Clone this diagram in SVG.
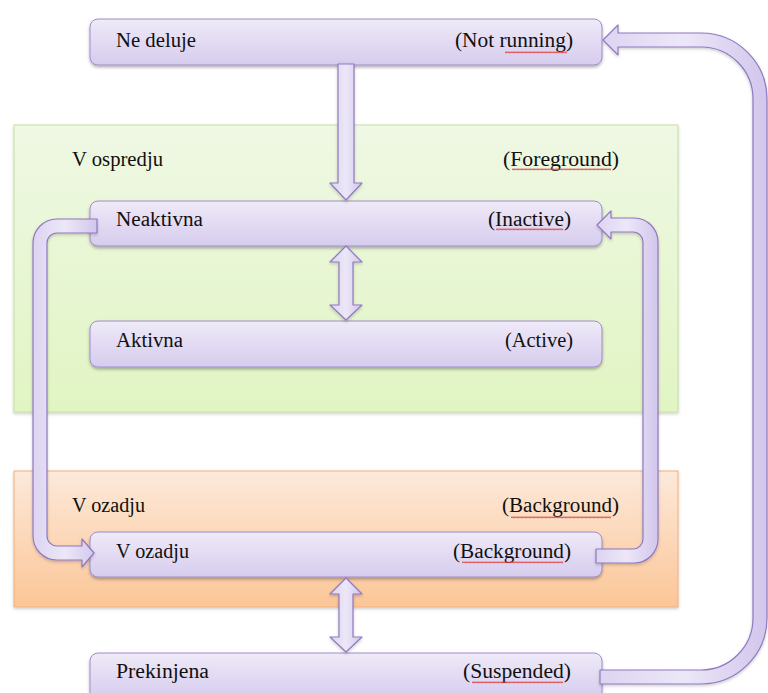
<svg xmlns="http://www.w3.org/2000/svg" width="768" height="693" viewBox="0 0 768 693">
  <defs>
    <linearGradient id="nodeFill" x1="0" y1="0" x2="0" y2="1">
      <stop offset="0" stop-color="#efeaf8"/>
      <stop offset="1" stop-color="#d6ccee"/>
    </linearGradient>
    <linearGradient id="arrowFill" x1="0" y1="0" x2="1" y2="0">
      <stop offset="0" stop-color="#ddd4f1"/>
      <stop offset="0.5" stop-color="#ece7f8"/>
      <stop offset="1" stop-color="#d2c6ec"/>
    </linearGradient>
    <linearGradient id="greenFill" x1="0" y1="0" x2="0" y2="1">
      <stop offset="0" stop-color="#eff8e4"/>
      <stop offset="1" stop-color="#e1f5c3"/>
    </linearGradient>
    <linearGradient id="orangeFill" x1="0" y1="0" x2="0" y2="1">
      <stop offset="0" stop-color="#fde9da"/>
      <stop offset="1" stop-color="#fbc697"/>
    </linearGradient>
    <pattern id="squiggle" width="4" height="3" patternUnits="userSpaceOnUse">
      <path d="M0,2.2 L1,0.6 L2,2.2 L3,0.6 L4,2.2" fill="none" stroke="#e03a3a" stroke-width="0.8"/>
    </pattern>
    <filter id="shadow" x="-5%" y="-20%" width="110%" height="150%">
      <feDropShadow dx="0" dy="2" stdDeviation="1.5" flood-color="#000" flood-opacity="0.3"/>
    </filter>
    <filter id="softShadow" x="-5%" y="-5%" width="110%" height="110%">
      <feDropShadow dx="0" dy="1.5" stdDeviation="1.5" flood-color="#000" flood-opacity="0.2"/>
    </filter>
  </defs>
  <style>
    .label { font-family: "Liberation Serif", "DejaVu Serif", serif; font-size: 20px; fill: #101010; }
    .box { fill: url(#nodeFill); stroke: #a08cca; stroke-width: 1; filter: url(#shadow); }
    .arrow { fill: url(#arrowFill); stroke: #8f79c0; stroke-width: 1.2; stroke-linejoin: round; filter: url(#softShadow); }
    .squig { fill: url(#squiggle); }
  </style>

  <rect width="768" height="693" fill="#ffffff"/>

  <!-- Foreground area -->
  <g id="foreground">
    <rect x="14" y="125" width="664" height="287" fill="url(#greenFill)" stroke="#c6df9f" stroke-width="1" filter="url(#softShadow)"/>
    <text class="label" x="72" y="166" textLength="91" lengthAdjust="spacingAndGlyphs">V ospredju</text>
    <text class="label" x="503" y="166" textLength="116" lengthAdjust="spacingAndGlyphs">(Foreground)</text>
    <rect class="squig" x="512" y="168" width="99" height="3"/>
  </g>

  <!-- Background area -->
  <g id="background">
    <rect x="14" y="471" width="664" height="136" fill="url(#orangeFill)" stroke="#f3ae78" stroke-width="1" filter="url(#softShadow)"/>
    <text class="label" x="72" y="512" textLength="73" lengthAdjust="spacingAndGlyphs">V ozadju</text>
    <text class="label" x="502" y="512" textLength="117" lengthAdjust="spacingAndGlyphs">(Background)</text>
    <rect class="squig" x="511" y="516" width="100" height="3"/>
  </g>

  <!-- States -->
  <g id="not-running">
    <rect class="box" x="90" y="19" width="512" height="46" rx="8"/>
    <text class="label" x="116" y="47" textLength="80" lengthAdjust="spacingAndGlyphs">Ne deluje</text>
    <text class="label" x="455" y="47" textLength="118" lengthAdjust="spacingAndGlyphs">(Not running)</text>
    <rect class="squig" x="505" y="51" width="62" height="3"/>
  </g>

  <g id="inactive">
    <rect class="box" x="90" y="201" width="512" height="45" rx="8"/>
    <text class="label" x="116" y="226" textLength="87" lengthAdjust="spacingAndGlyphs">Neaktivna</text>
    <text class="label" x="488" y="226" textLength="83" lengthAdjust="spacingAndGlyphs">(Inactive)</text>
    <rect class="squig" x="496" y="228" width="67" height="3"/>
  </g>

  <g id="active">
    <rect class="box" x="90" y="321" width="512" height="46" rx="8"/>
    <text class="label" x="116" y="347" textLength="67" lengthAdjust="spacingAndGlyphs">Aktivna</text>
    <text class="label" x="505" y="347" textLength="68" lengthAdjust="spacingAndGlyphs">(Active)</text>
  </g>

  <g id="background-state">
    <rect class="box" x="90" y="532" width="512" height="45" rx="8"/>
    <text class="label" x="116" y="558" textLength="73" lengthAdjust="spacingAndGlyphs">V ozadju</text>
    <text class="label" x="453" y="558" textLength="118" lengthAdjust="spacingAndGlyphs">(Background)</text>
    <rect class="squig" x="462" y="561" width="101" height="3"/>
  </g>

  <g id="suspended">
    <rect class="box" x="90" y="653" width="512" height="46" rx="8"/>
    <text class="label" x="116" y="678" textLength="93" lengthAdjust="spacingAndGlyphs">Prekinjena</text>
    <text class="label" x="463" y="678" textLength="108" lengthAdjust="spacingAndGlyphs">(Suspended)</text>
    <rect class="squig" x="472" y="681" width="91" height="3"/>
  </g>

  <!-- Transitions -->
  <g id="connectors">
    <!-- Not running -> Inactive -->
    <path class="arrow" d="M338,64 L354,64 L354,183 L362,183 L346,200 L330,183 L338,183 Z"/>
    <!-- Inactive <-> Active -->
    <path class="arrow" d="M346,246 L362,262 L353,262 L353,305 L362,305 L346,320 L330,305 L339,305 L339,262 L330,262 Z"/>
    <!-- Background <-> Suspended -->
    <path class="arrow" d="M346,578 L362,594 L353,594 L353,637 L362,637 L346,652 L330,637 L339,637 L339,594 L330,594 Z"/>
    <!-- Inactive -> Background -->
    <path class="arrow" d="M97,219 L57,219 A24,24 0 0 0 33,243 L33,536 A24,24 0 0 0 57,560 L82,560 L82,567 L94,553 L82,539 L82,546 L57,546 A10,10 0 0 1 47,536 L47,243 A10,10 0 0 1 57,233 L97,233 Z"/>
    <!-- Background -> Inactive -->
    <path class="arrow" d="M596,549 L633,549 A10,10 0 0 0 643,539 L643,242 A10,10 0 0 0 633,232 L611,232 L611,239 L597,225 L611,211 L611,218 L634,218 A24,24 0 0 1 658,242 L658,539 A24,24 0 0 1 634,563 L596,563 Z"/>
    <!-- Suspended -> Not running -->
    <path class="arrow" d="M600,670 L701,670 A52,52 0 0 0 753,618 L753,99 A52,52 0 0 0 701,47 L618,47 L618,55 L603,40 L618,25 L618,33 L701,33 A66,66 0 0 1 767,99 L767,618 A66,66 0 0 1 701,684 L600,684 Z"/>
  </g>
</svg>
